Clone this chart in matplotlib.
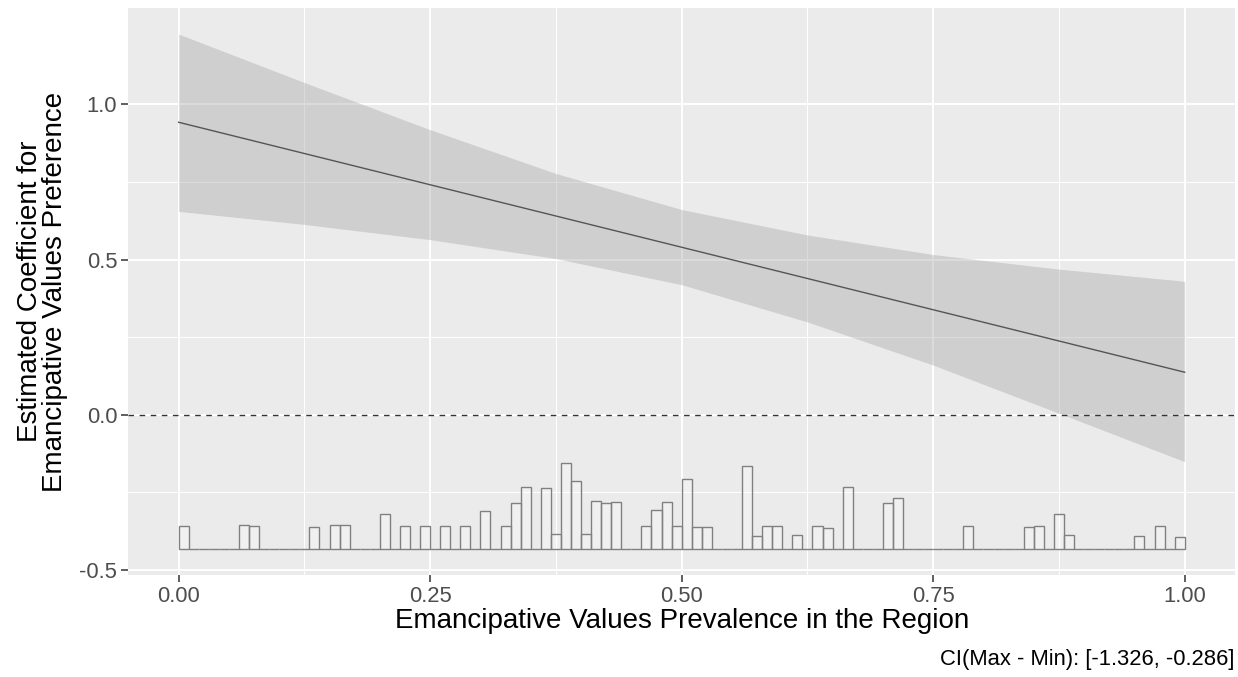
import matplotlib
matplotlib.use("Agg")
import matplotlib.pyplot as plt
import numpy as np

plt.rcParams['font.family'] = ['Liberation Sans', 'DejaVu Sans']

# ---- data ----
# marginal effect line (endpoints)
line_x = [0.0, 1.0]
line_y = [0.942, 0.137]

# confidence band edges
band_x = [0.0, 0.125, 0.25, 0.375, 0.5, 0.625, 0.75, 0.875, 1.0]
band_upper = [1.226, 1.070, 0.918, 0.777, 0.661, 0.579, 0.516, 0.469, 0.430]
band_lower = [0.655, 0.613, 0.564, 0.503, 0.419, 0.299, 0.160, 0.005, -0.151]

# histogram of the moderator (100 bins on [0, 1]); bin start -> bar height
hist_bin_start = [0.00, 0.06, 0.07, 0.13, 0.15, 0.16, 0.20, 0.22, 0.24, 0.26,
                  0.28, 0.30, 0.32, 0.33, 0.34, 0.36, 0.37, 0.38, 0.39, 0.40,
                  0.41, 0.42, 0.43, 0.46, 0.47, 0.48, 0.49, 0.50, 0.51, 0.52,
                  0.56, 0.57, 0.58, 0.59, 0.61, 0.63, 0.64, 0.66, 0.70, 0.71,
                  0.78, 0.84, 0.85, 0.87, 0.88, 0.95, 0.97, 0.99]
hist_height = [0.075, 0.077, 0.075, 0.073, 0.078, 0.077, 0.114, 0.075, 0.075, 0.075,
               0.075, 0.122, 0.075, 0.148, 0.200, 0.197, 0.048, 0.277, 0.219, 0.048,
               0.155, 0.148, 0.151, 0.076, 0.126, 0.151, 0.075, 0.226, 0.072, 0.072,
               0.269, 0.041, 0.076, 0.076, 0.046, 0.075, 0.068, 0.202, 0.148, 0.166,
               0.076, 0.073, 0.075, 0.114, 0.045, 0.044, 0.076, 0.040]
hist_base = -0.433
bin_width = 0.01
n_bins = 100

x_ticks = [0.0, 0.25, 0.5, 0.75, 1.0]
x_ticklabels = ["0.00", "0.25", "0.50", "0.75", "1.00"]
y_ticks = [-0.5, 0.0, 0.5, 1.0]
y_ticklabels = ["-0.5", "0.0", "0.5", "1.0"]

# ---- figure ----
fig = plt.figure(figsize=(12.38, 6.77), dpi=100)
ax = fig.add_axes([128.3 / 1238, 1 - 575 / 677, (1235 - 128.3) / 1238, (575 - 8.3) / 677])
ax.set_facecolor('#EBEBEB')
for s in ax.spines.values():
    s.set_visible(False)

ax.set_xlim(-0.05, 1.05)
ax.set_ylim(-0.516, 1.309)

# grid
ax.set_xticks(x_ticks)
ax.set_xticklabels(x_ticklabels)
ax.set_yticks(y_ticks)
ax.set_yticklabels(y_ticklabels)
ax.set_xticks([0.125, 0.375, 0.625, 0.875], minor=True)
ax.set_yticks([-0.25, 0.25, 0.75], minor=True)
ax.grid(True, which='major', color='white', linewidth=1.4)
ax.grid(True, which='minor', color='white', linewidth=0.7)
ax.set_axisbelow(True)
ax.tick_params(which='minor', length=0)
ax.tick_params(which='major', length=5, width=1.1, color='#333333',
               labelcolor='#4D4D4D', labelsize=15.8, pad=3)

# histogram (all bins, zero-height bins drawn as flat outline)
heights = np.zeros(n_bins)
for b, h in zip(hist_bin_start, hist_height):
    heights[int(round(b / bin_width))] = h
lefts = np.arange(n_bins) * bin_width
ax.bar(lefts, heights, width=bin_width, bottom=hist_base, align='edge',
       facecolor=(1, 1, 1, 0.25), edgecolor='#808080', linewidth=1.0, zorder=2)

# confidence band
ax.fill_between(band_x, band_lower, band_upper, color='#999999', alpha=0.34,
                linewidth=0, zorder=3)
# line
ax.plot(line_x, line_y, color='#555555', linewidth=1.0, zorder=4)
# zero reference
ax.axhline(0, color='#333333', linewidth=1.0, linestyle=(0, (4, 4)), zorder=4)

ax.set_xlabel("Emancipative Values Prevalence in the Region", fontsize=20,
              color='black', labelpad=1)
ax.set_ylabel("Estimated Coefficient for\nEmancipative Values Preference",
              fontsize=20, color='black', labelpad=8, linespacing=0.95)

fig.text(1235 / 1238, 1 - 660 / 677, "CI(Max - Min): [-1.326, -0.286]",
         ha='right', va='center', fontsize=15.8, color='black')

fig.savefig("out.png", dpi=100)
